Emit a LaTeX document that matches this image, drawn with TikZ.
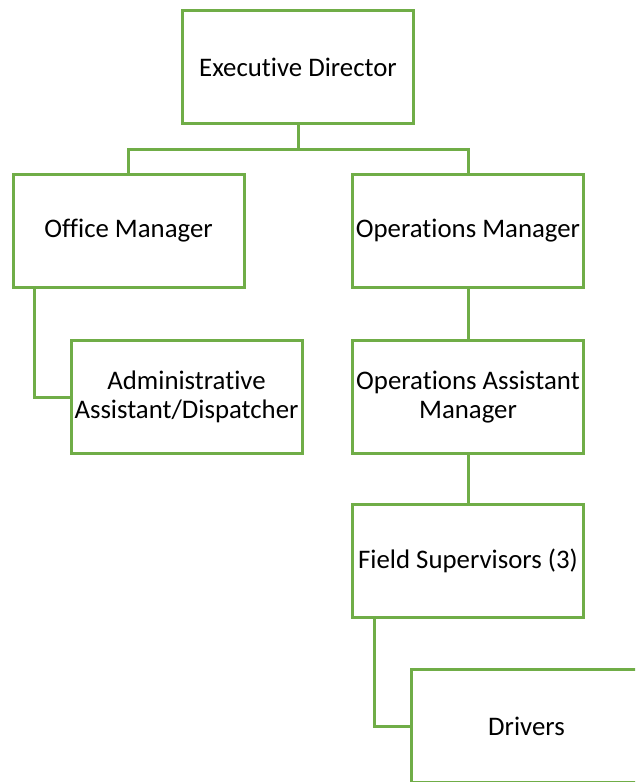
\documentclass[tikz,border=0pt]{standalone}
\usepackage{fontspec}
\setmainfont{Carlito}[RawFeature={-liga;-clig}]
\usepackage{xcolor}
\usetikzlibrary{positioning}
\definecolor{orggreen}{HTML}{70AD47}

\begin{document}
\begin{tikzpicture}[
        x=1pt, y=-1pt,
        node distance=50pt,
        box/.style={rectangle, draw=orggreen, line width=3pt, fill=white,
                    minimum width=231pt, minimum height=113pt, inner sep=2pt,
                    align=center, font=\fontsize{26.8}{29.5}\selectfont},
        link/.style={draw=orggreen, line width=3pt}
    ]
        \useasboundingbox (0,0) rectangle (635,782);
        \clip (0,0) rectangle (635,782);
        \node[box] (ed) at (298,67) {Executive Director};
        \node[box, below=48pt of ed, xshift=170pt] (opsm) {Operations Manager};
        \node[box, left=105.5pt of opsm] (om) {Office Manager};
        \node[box, below=of om, xshift=58pt] (admin) {Administrative\\Assistant/Dispatcher};
        \node[box, below=of opsm] (oam) {Operations Assistant\\Manager};
        \node[box, below=48pt of oam] (fs) {Field Supervisors (3)};
        \node[box, below=49pt of fs, xshift=58.5pt] (drivers) {Drivers};
        \draw[link] (ed.south) -- ++(0,24) -| (om.north);
        \draw[link] (ed.south) -- ++(0,24) -| (opsm.north);
        \draw[link] ([xshift=23pt]om.south west) |- (admin.west);
        \draw[link] (opsm) -- (oam);
        \draw[link] (oam) -- (fs);
        \draw[link] ([xshift=23pt]fs.south west) |- (drivers.west);
    \end{tikzpicture}
\end{document}
